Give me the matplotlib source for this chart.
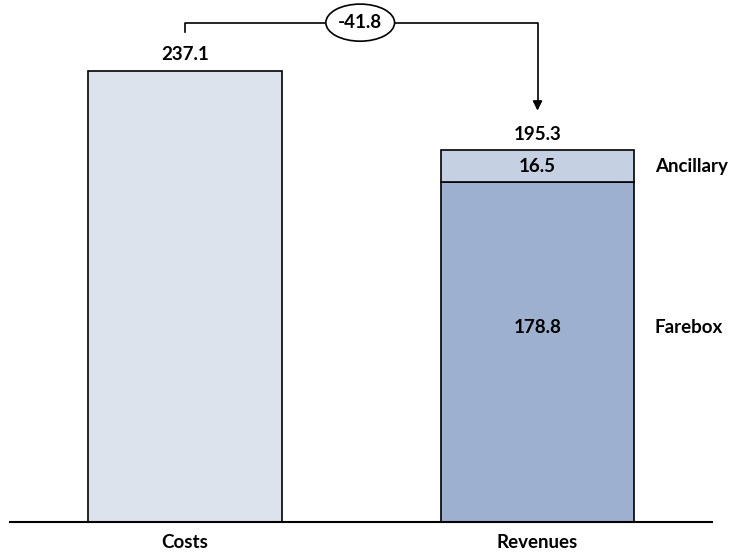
import matplotlib.pyplot as plt
from matplotlib.patches import Ellipse

plt.rcParams['font.family'] = ['Lato', 'DejaVu Sans']

categories = ['Costs', 'Revenues']
costs = 237.1
farebox = 178.8
ancillary = 16.5
revenues = round(farebox + ancillary, 1)
gap = round(revenues - costs, 1)

fig = plt.figure(figsize=(7.3, 5.54), dpi=100)
ax = fig.add_axes([10 / 730, 32 / 554, 702 / 730, 522 / 554])
ax.set_xlim(-0.4965, 1.495)
ax.set_ylim(0, 274.4)

w = 0.55
ax.bar(0, costs, width=w, color='#dce3ed', edgecolor='black', linewidth=1.2)
ax.bar(1, farebox, width=w, color='#9db0cf', edgecolor='black', linewidth=1.2)
ax.bar(1, ancillary, bottom=farebox, width=w, color='#c5d0e2', edgecolor='black', linewidth=1.2)

fs = 13.5
ax.text(0, costs + 4, f'{costs:.1f}', ha='center', va='bottom', fontsize=fs, fontweight='bold')
ax.text(1, revenues + 4, f'{revenues:.1f}', ha='center', va='bottom', fontsize=fs, fontweight='bold')
ax.text(1, farebox + ancillary / 2, f'{ancillary:.1f}', ha='center', va='center', fontsize=fs, fontweight='bold')
ax.text(1, farebox * 0.573, f'{farebox:.1f}', ha='center', va='center', fontsize=fs, fontweight='bold')
ax.text(1.333, farebox + ancillary / 2, 'Ancillary', ha='left', va='center', fontsize=fs, fontweight='bold')
ax.text(1.333, farebox * 0.573, 'Farebox', ha='left', va='center', fontsize=fs, fontweight='bold')

# connector with difference bubble
y_line = 262.5
ax.plot([0, 0, 1, 1], [costs + 20.5, y_line, y_line, revenues + 25], color='black', lw=1.2)
ax.annotate('', xy=(1, revenues + 19.5), xytext=(1, revenues + 26),
            arrowprops=dict(arrowstyle='-|>', color='black', lw=1.2, mutation_scale=14))
xm = 0.497
ax.add_patch(Ellipse((xm, y_line), 0.195, 19.5, facecolor='white', edgecolor='black', lw=1.2, zorder=3))
ax.text(xm, y_line, f'{gap:.1f}', ha='center', va='center', fontsize=fs, fontweight='bold', zorder=4)

for s in ['top', 'right', 'left']:
    ax.spines[s].set_visible(False)
ax.spines['bottom'].set_linewidth(1.5)
ax.set_yticks([])
ax.set_xticks([0, 1])
ax.set_xticklabels(categories, fontsize=fs, fontweight='bold')
ax.tick_params(axis='x', length=0, pad=9)

fig.savefig('out.png', dpi=100)
